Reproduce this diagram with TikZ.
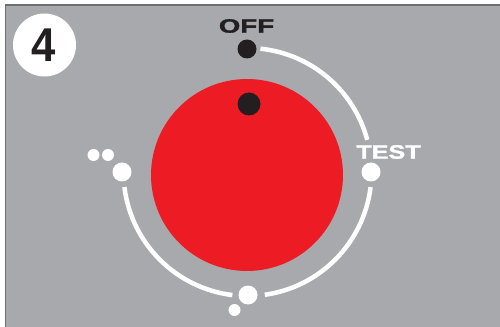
\documentclass[tikz,border=0pt]{standalone}
\usepackage{fontspec}
\setmainfont{Liberation Sans}
\usetikzlibrary{calc}
\definecolor{panelgray}{HTML}{A7A9AC}
\definecolor{framegray}{HTML}{6D6E71}
\definecolor{knobred}{HTML}{ED1C24}
\definecolor{inkblack}{HTML}{231F20}

\begin{document}
\begin{tikzpicture}[
    x=0.02cm, y=-0.02cm,
    track/.style={line width=0.09cm, white},
    dotwhite/.style={circle, fill=white, inner sep=0pt, minimum size=0.38cm},
    dotsmall/.style={circle, fill=white, inner sep=0pt, minimum size=0.24cm},
    dotblack/.style={circle, fill=inkblack, inner sep=0pt, minimum size=0.38cm},
    legend/.style={font=\fontsize{11}{11}\selectfont\bfseries\addfontfeatures{FakeBold=1.5}, inner sep=0pt, xscale=1.3}
]

    % Marco y fondo
    \useasboundingbox (0,0) rectangle (500,327);
    \fill[white] (0,0) rectangle (500,327);
    \fill[panelgray] (5.5,5) rectangle (500,327);
    \draw[line width=0.035cm, framegray] (5.5,327) -- (5.5,5) -- (500,5);

    % Centro del dial
    \coordinate (C) at (247.5,172);

    % Disco rojo
    \node[circle, fill=knobred, inner sep=0pt, minimum size=3.84cm] (knob) at (247,175) {};
    \node[dotblack, minimum size=0.46cm] (pointer) at (249,104) {};

    % Tramos del recorrido
    \draw[track] ($(C)+(-84:124)$) arc (-84:-15:124);
    \draw[track] ($(C)+(7:124)$) arc (7:82:124);
    \draw[track] ($(C)+(97:124)$) arc (97:173:124);

    % Posiciones
    \node[dotblack] (off) at (247,49) {};
    \node[dotwhite] (test) at (371,172) {};
    \node[dotwhite] (low) at (248,295) {};
    \node[dotwhite] (high) at (122,172) {};
    \node[dotsmall] (lowa) at (234.5,310) {};
    \node[dotsmall] (higha) at (93.5,155) {};
    \node[dotsmall] (highb) at (108,155) {};

    % Rotulos
    \node[legend, text=inkblack, xscale=1.1] (offlabel) at (246.5,26) {OFF};
    \node[legend, text=white] (testlabel) at (388.5,152) {TEST};

    % Numero de paso
    \node[circle, fill=white, inner sep=0pt, minimum size=1.26cm] (stepnum) at (44.5,45) {};
    \node[font=\bfseries\fontsize{27}{27}\selectfont, text=inkblack, xscale=0.92] (stepdigit) at (43.5,45) {4};

\end{tikzpicture}
\end{document}
